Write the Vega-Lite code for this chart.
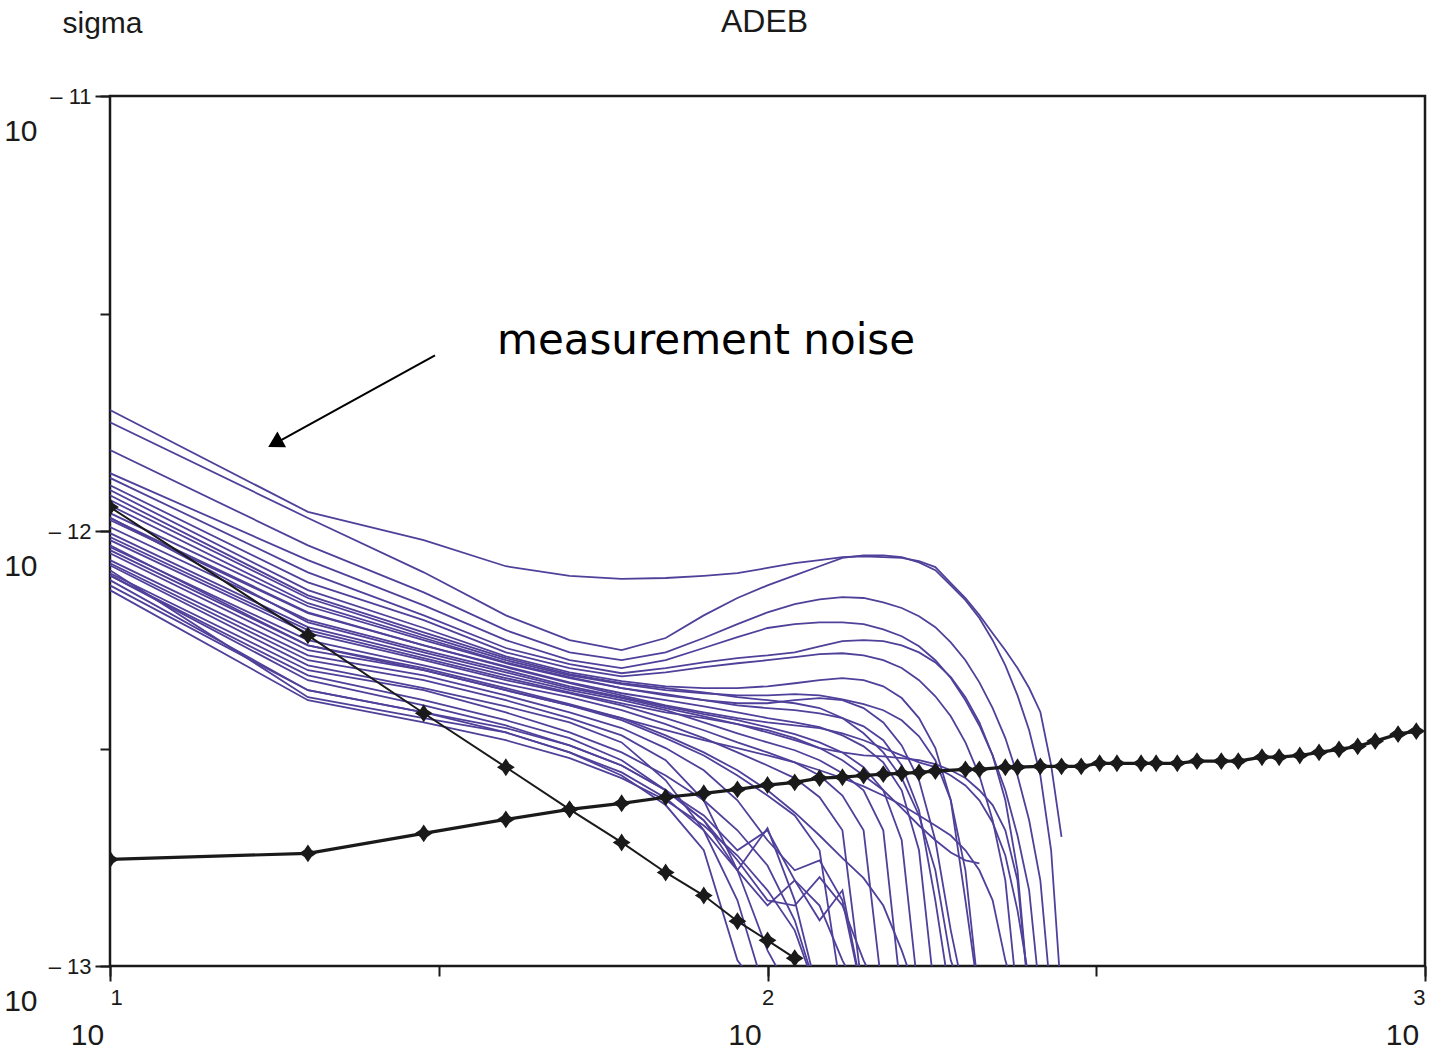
{
"$schema": "https://vega.github.io/schema/vega-lite/v6.json",
"width": 1315, "height": 870,
"autosize": "none",
"padding": {"left": 110, "top": 96, "right": 5, "bottom": 85},
"background": "white",
"config": {"view": {"stroke": "#1a1a1a", "strokeWidth": 2.5}, "font": "Liberation Sans, sans-serif"},
"datasets": {
"noise": [
{"series":"T","freq":10,"log_sigma":-11.722},{"series":"T","freq":20,"log_sigma":-11.956},{"series":"T","freq":30,"log_sigma":-12.021},{"series":"T","freq":40,"log_sigma":-12.081},{"series":"T","freq":50,"log_sigma":-12.103},{"series":"T","freq":60,"log_sigma":-12.110},{"series":"T","freq":70,"log_sigma":-12.108},{"series":"T","freq":80,"log_sigma":-12.103},{"series":"T","freq":90,"log_sigma":-12.097},{"series":"T","freq":100,"log_sigma":-12.085},{"series":"T","freq":110,"log_sigma":-12.074},{"series":"T","freq":120,"log_sigma":-12.067},{"series":"T","freq":130,"log_sigma":-12.060},{"series":"T","freq":140,"log_sigma":-12.058},{"series":"T","freq":150,"log_sigma":-12.060},{"series":"T","freq":160,"log_sigma":-12.062},{"series":"T","freq":170,"log_sigma":-12.069},{"series":"T","freq":180,"log_sigma":-12.083},{"series":"T","freq":190,"log_sigma":-12.120},{"series":"T","freq":200,"log_sigma":-12.154},{"series":"T","freq":210,"log_sigma":-12.193},{"series":"T","freq":220,"log_sigma":-12.235},{"series":"T","freq":230,"log_sigma":-12.274},{"series":"T","freq":240,"log_sigma":-12.315},{"series":"T","freq":250,"log_sigma":-12.361},{"series":"T","freq":260,"log_sigma":-12.416},{"series":"T","freq":270,"log_sigma":-12.538},{"series":"T","freq":280,"log_sigma":-12.703},
{"series":"U1","freq":10,"log_sigma":-11.750},{"series":"U1","freq":20,"log_sigma":-11.970},{"series":"U1","freq":30,"log_sigma":-12.095},{"series":"U1","freq":40,"log_sigma":-12.194},{"series":"U1","freq":50,"log_sigma":-12.251},{"series":"U1","freq":60,"log_sigma":-12.274},{"series":"U1","freq":70,"log_sigma":-12.246},{"series":"U1","freq":80,"log_sigma":-12.194},{"series":"U1","freq":90,"log_sigma":-12.154},{"series":"U1","freq":100,"log_sigma":-12.125},{"series":"U1","freq":110,"log_sigma":-12.102},{"series":"U1","freq":120,"log_sigma":-12.081},{"series":"U1","freq":130,"log_sigma":-12.062},{"series":"U1","freq":140,"log_sigma":-12.056},{"series":"U1","freq":150,"log_sigma":-12.056},{"series":"U1","freq":160,"log_sigma":-12.060},{"series":"U1","freq":170,"log_sigma":-12.072},{"series":"U1","freq":180,"log_sigma":-12.090},{"series":"U1","freq":190,"log_sigma":-12.125},{"series":"U1","freq":200,"log_sigma":-12.159},{"series":"U1","freq":210,"log_sigma":-12.200},{"series":"U1","freq":220,"log_sigma":-12.251},{"series":"U1","freq":230,"log_sigma":-12.309},{"series":"U1","freq":240,"log_sigma":-12.378},{"series":"U1","freq":250,"log_sigma":-12.458},{"series":"U1","freq":260,"log_sigma":-12.562},{"series":"U1","freq":270,"log_sigma":-12.734},{"series":"U1","freq":280,"log_sigma":-13.079},
{"series":"U2","freq":10,"log_sigma":-11.814},{"series":"U2","freq":20,"log_sigma":-12.033},{"series":"U2","freq":30,"log_sigma":-12.141},{"series":"U2","freq":40,"log_sigma":-12.228},{"series":"U2","freq":50,"log_sigma":-12.279},{"series":"U2","freq":60,"log_sigma":-12.297},{"series":"U2","freq":70,"log_sigma":-12.279},{"series":"U2","freq":80,"log_sigma":-12.246},{"series":"U2","freq":90,"log_sigma":-12.214},{"series":"U2","freq":100,"log_sigma":-12.187},{"series":"U2","freq":110,"log_sigma":-12.168},{"series":"U2","freq":120,"log_sigma":-12.157},{"series":"U2","freq":130,"log_sigma":-12.152},{"series":"U2","freq":140,"log_sigma":-12.154},{"series":"U2","freq":150,"log_sigma":-12.164},{"series":"U2","freq":160,"log_sigma":-12.177},{"series":"U2","freq":170,"log_sigma":-12.196},{"series":"U2","freq":180,"log_sigma":-12.221},{"series":"U2","freq":190,"log_sigma":-12.256},{"series":"U2","freq":200,"log_sigma":-12.297},{"series":"U2","freq":210,"log_sigma":-12.348},{"series":"U2","freq":220,"log_sigma":-12.407},{"series":"U2","freq":230,"log_sigma":-12.476},{"series":"U2","freq":240,"log_sigma":-12.562},{"series":"U2","freq":250,"log_sigma":-12.665},{"series":"U2","freq":260,"log_sigma":-12.803},{"series":"U2","freq":270,"log_sigma":-13.079},
{"series":"U3","freq":10,"log_sigma":-11.867},{"series":"U3","freq":20,"log_sigma":-12.067},{"series":"U3","freq":30,"log_sigma":-12.171},{"series":"U3","freq":40,"log_sigma":-12.251},{"series":"U3","freq":50,"log_sigma":-12.297},{"series":"U3","freq":60,"log_sigma":-12.315},{"series":"U3","freq":70,"log_sigma":-12.297},{"series":"U3","freq":80,"log_sigma":-12.269},{"series":"U3","freq":90,"log_sigma":-12.244},{"series":"U3","freq":100,"log_sigma":-12.223},{"series":"U3","freq":110,"log_sigma":-12.214},{"series":"U3","freq":120,"log_sigma":-12.210},{"series":"U3","freq":130,"log_sigma":-12.210},{"series":"U3","freq":140,"log_sigma":-12.214},{"series":"U3","freq":150,"log_sigma":-12.226},{"series":"U3","freq":160,"log_sigma":-12.242},{"series":"U3","freq":170,"log_sigma":-12.265},{"series":"U3","freq":180,"log_sigma":-12.297},{"series":"U3","freq":190,"log_sigma":-12.338},{"series":"U3","freq":200,"log_sigma":-12.389},{"series":"U3","freq":210,"log_sigma":-12.447},{"series":"U3","freq":220,"log_sigma":-12.516},{"series":"U3","freq":230,"log_sigma":-12.596},{"series":"U3","freq":240,"log_sigma":-12.700},{"series":"U3","freq":250,"log_sigma":-12.826},{"series":"U3","freq":260,"log_sigma":-13.079},
{"series":"U4","freq":10,"log_sigma":-11.878},{"series":"U4","freq":20,"log_sigma":-12.095},{"series":"U4","freq":30,"log_sigma":-12.194},{"series":"U4","freq":40,"log_sigma":-12.269},{"series":"U4","freq":50,"log_sigma":-12.306},{"series":"U4","freq":60,"log_sigma":-12.327},{"series":"U4","freq":70,"log_sigma":-12.315},{"series":"U4","freq":80,"log_sigma":-12.302},{"series":"U4","freq":90,"log_sigma":-12.292},{"series":"U4","freq":100,"log_sigma":-12.286},{"series":"U4","freq":110,"log_sigma":-12.279},{"series":"U4","freq":120,"log_sigma":-12.265},{"series":"U4","freq":130,"log_sigma":-12.253},{"series":"U4","freq":140,"log_sigma":-12.251},{"series":"U4","freq":150,"log_sigma":-12.253},{"series":"U4","freq":160,"log_sigma":-12.263},{"series":"U4","freq":170,"log_sigma":-12.279},{"series":"U4","freq":180,"log_sigma":-12.302},{"series":"U4","freq":190,"log_sigma":-12.336},{"series":"U4","freq":200,"log_sigma":-12.382},{"series":"U4","freq":210,"log_sigma":-12.440},{"series":"U4","freq":220,"log_sigma":-12.516},{"series":"U4","freq":230,"log_sigma":-12.619},{"series":"U4","freq":240,"log_sigma":-12.780},{"series":"U4","freq":250,"log_sigma":-13.079},
{"series":"U5","freq":10,"log_sigma":-11.895},{"series":"U5","freq":20,"log_sigma":-12.118},{"series":"U5","freq":30,"log_sigma":-12.205},{"series":"U5","freq":40,"log_sigma":-12.279},{"series":"U5","freq":50,"log_sigma":-12.315},{"series":"U5","freq":60,"log_sigma":-12.334},{"series":"U5","freq":70,"log_sigma":-12.325},{"series":"U5","freq":80,"log_sigma":-12.313},{"series":"U5","freq":90,"log_sigma":-12.304},{"series":"U5","freq":100,"log_sigma":-12.297},{"series":"U5","freq":110,"log_sigma":-12.290},{"series":"U5","freq":120,"log_sigma":-12.283},{"series":"U5","freq":130,"log_sigma":-12.281},{"series":"U5","freq":140,"log_sigma":-12.286},{"series":"U5","freq":150,"log_sigma":-12.297},{"series":"U5","freq":160,"log_sigma":-12.315},{"series":"U5","freq":170,"log_sigma":-12.343},{"series":"U5","freq":180,"log_sigma":-12.380},{"series":"U5","freq":190,"log_sigma":-12.426},{"series":"U5","freq":200,"log_sigma":-12.486},{"series":"U5","freq":210,"log_sigma":-12.562},{"series":"U5","freq":220,"log_sigma":-12.665},{"series":"U5","freq":230,"log_sigma":-12.803},{"series":"U5","freq":240,"log_sigma":-13.079},
{"series":"U6","freq":10,"log_sigma":-11.906},{"series":"U6","freq":20,"log_sigma":-12.136},{"series":"U6","freq":30,"log_sigma":-12.223},{"series":"U6","freq":40,"log_sigma":-12.288},{"series":"U6","freq":50,"log_sigma":-12.325},{"series":"U6","freq":60,"log_sigma":-12.345},{"series":"U6","freq":70,"log_sigma":-12.357},{"series":"U6","freq":80,"log_sigma":-12.361},{"series":"U6","freq":90,"log_sigma":-12.361},{"series":"U6","freq":100,"log_sigma":-12.357},{"series":"U6","freq":110,"log_sigma":-12.350},{"series":"U6","freq":120,"log_sigma":-12.343},{"series":"U6","freq":130,"log_sigma":-12.338},{"series":"U6","freq":140,"log_sigma":-12.343},{"series":"U6","freq":150,"log_sigma":-12.357},{"series":"U6","freq":160,"log_sigma":-12.384},{"series":"U6","freq":170,"log_sigma":-12.430},{"series":"U6","freq":180,"log_sigma":-12.499},{"series":"U6","freq":190,"log_sigma":-12.619},{"series":"U6","freq":200,"log_sigma":-12.849},{"series":"U6","freq":210,"log_sigma":-13.079},
{"series":"U7","freq":10,"log_sigma":-11.929},{"series":"U7","freq":20,"log_sigma":-12.154},{"series":"U7","freq":30,"log_sigma":-12.240},{"series":"U7","freq":40,"log_sigma":-12.297},{"series":"U7","freq":50,"log_sigma":-12.332},{"series":"U7","freq":60,"log_sigma":-12.352},{"series":"U7","freq":70,"log_sigma":-12.366},{"series":"U7","freq":80,"log_sigma":-12.373},{"series":"U7","freq":90,"log_sigma":-12.378},{"series":"U7","freq":100,"log_sigma":-12.378},{"series":"U7","freq":110,"log_sigma":-12.375},{"series":"U7","freq":120,"log_sigma":-12.378},{"series":"U7","freq":130,"log_sigma":-12.387},{"series":"U7","freq":140,"log_sigma":-12.398},{"series":"U7","freq":150,"log_sigma":-12.412},{"series":"U7","freq":160,"log_sigma":-12.435},{"series":"U7","freq":170,"log_sigma":-12.472},{"series":"U7","freq":180,"log_sigma":-12.527},{"series":"U7","freq":190,"log_sigma":-12.619},{"series":"U7","freq":200,"log_sigma":-12.780},{"series":"U7","freq":210,"log_sigma":-13.079},
{"series":"U8","freq":10,"log_sigma":-11.959},{"series":"U8","freq":20,"log_sigma":-12.173},{"series":"U8","freq":30,"log_sigma":-12.251},{"series":"U8","freq":40,"log_sigma":-12.304},{"series":"U8","freq":50,"log_sigma":-12.338},{"series":"U8","freq":60,"log_sigma":-12.361},{"series":"U8","freq":70,"log_sigma":-12.378},{"series":"U8","freq":80,"log_sigma":-12.389},{"series":"U8","freq":90,"log_sigma":-12.401},{"series":"U8","freq":100,"log_sigma":-12.407},{"series":"U8","freq":110,"log_sigma":-12.412},{"series":"U8","freq":120,"log_sigma":-12.419},{"series":"U8","freq":130,"log_sigma":-12.430},{"series":"U8","freq":140,"log_sigma":-12.449},{"series":"U8","freq":150,"log_sigma":-12.481},{"series":"U8","freq":160,"log_sigma":-12.539},{"series":"U8","freq":170,"log_sigma":-12.642},{"series":"U8","freq":180,"log_sigma":-12.849},{"series":"U8","freq":190,"log_sigma":-13.079},
{"series":"U9","freq":10,"log_sigma":-11.975},{"series":"U9","freq":20,"log_sigma":-12.189},{"series":"U9","freq":30,"log_sigma":-12.263},{"series":"U9","freq":40,"log_sigma":-12.311},{"series":"U9","freq":50,"log_sigma":-12.348},{"series":"U9","freq":60,"log_sigma":-12.373},{"series":"U9","freq":70,"log_sigma":-12.389},{"series":"U9","freq":80,"log_sigma":-12.403},{"series":"U9","freq":90,"log_sigma":-12.417},{"series":"U9","freq":100,"log_sigma":-12.430},{"series":"U9","freq":110,"log_sigma":-12.440},{"series":"U9","freq":120,"log_sigma":-12.451},{"series":"U9","freq":130,"log_sigma":-12.470},{"series":"U9","freq":140,"log_sigma":-12.495},{"series":"U9","freq":150,"log_sigma":-12.532},{"series":"U9","freq":160,"log_sigma":-12.596},{"series":"U9","freq":170,"log_sigma":-12.734},{"series":"U9","freq":180,"log_sigma":-13.079},
{"series":"U10","freq":10,"log_sigma":-11.991},{"series":"U10","freq":20,"log_sigma":-12.205},{"series":"U10","freq":30,"log_sigma":-12.274},{"series":"U10","freq":40,"log_sigma":-12.320},{"series":"U10","freq":50,"log_sigma":-12.357},{"series":"U10","freq":60,"log_sigma":-12.382},{"series":"U10","freq":70,"log_sigma":-12.403},{"series":"U10","freq":80,"log_sigma":-12.421},{"series":"U10","freq":90,"log_sigma":-12.435},{"series":"U10","freq":100,"log_sigma":-12.451},{"series":"U10","freq":110,"log_sigma":-12.467},{"series":"U10","freq":120,"log_sigma":-12.486},{"series":"U10","freq":130,"log_sigma":-12.509},{"series":"U10","freq":140,"log_sigma":-12.543},{"series":"U10","freq":150,"log_sigma":-12.596},{"series":"U10","freq":160,"log_sigma":-12.711},{"series":"U10","freq":170,"log_sigma":-13.079},
{"series":"U11","freq":10,"log_sigma":-12.005},{"series":"U11","freq":20,"log_sigma":-12.221},{"series":"U11","freq":30,"log_sigma":-12.286},{"series":"U11","freq":40,"log_sigma":-12.332},{"series":"U11","freq":50,"log_sigma":-12.366},{"series":"U11","freq":60,"log_sigma":-12.389},{"series":"U11","freq":70,"log_sigma":-12.412},{"series":"U11","freq":80,"log_sigma":-12.440},{"series":"U11","freq":90,"log_sigma":-12.465},{"series":"U11","freq":100,"log_sigma":-12.486},{"series":"U11","freq":110,"log_sigma":-12.504},{"series":"U11","freq":120,"log_sigma":-12.527},{"series":"U11","freq":130,"log_sigma":-12.557},{"series":"U11","freq":140,"log_sigma":-12.596},{"series":"U11","freq":150,"log_sigma":-12.688},{"series":"U11","freq":160,"log_sigma":-13.079},
{"series":"U12","freq":10,"log_sigma":-12.021},{"series":"U12","freq":20,"log_sigma":-12.235},{"series":"U12","freq":30,"log_sigma":-12.297},{"series":"U12","freq":40,"log_sigma":-12.343},{"series":"U12","freq":50,"log_sigma":-12.373},{"series":"U12","freq":60,"log_sigma":-12.401},{"series":"U12","freq":70,"log_sigma":-12.430},{"series":"U12","freq":80,"log_sigma":-12.458},{"series":"U12","freq":90,"log_sigma":-12.486},{"series":"U12","freq":100,"log_sigma":-12.509},{"series":"U12","freq":110,"log_sigma":-12.532},{"series":"U12","freq":120,"log_sigma":-12.562},{"series":"U12","freq":130,"log_sigma":-12.608},{"series":"U12","freq":140,"log_sigma":-12.688},{"series":"U12","freq":150,"log_sigma":-13.079},
{"series":"U13","freq":10,"log_sigma":-12.037},{"series":"U13","freq":20,"log_sigma":-12.251},{"series":"U13","freq":30,"log_sigma":-12.309},{"series":"U13","freq":40,"log_sigma":-12.352},{"series":"U13","freq":50,"log_sigma":-12.382},{"series":"U13","freq":60,"log_sigma":-12.412},{"series":"U13","freq":70,"log_sigma":-12.444},{"series":"U13","freq":80,"log_sigma":-12.476},{"series":"U13","freq":90,"log_sigma":-12.509},{"series":"U13","freq":100,"log_sigma":-12.539},{"series":"U13","freq":110,"log_sigma":-12.568},{"series":"U13","freq":120,"log_sigma":-12.612},{"series":"U13","freq":130,"log_sigma":-12.688},{"series":"U13","freq":140,"log_sigma":-13.079},
{"series":"E","freq":10,"log_sigma":-12.014},{"series":"E","freq":20,"log_sigma":-12.228},{"series":"E","freq":30,"log_sigma":-12.292},{"series":"E","freq":40,"log_sigma":-12.338},{"series":"E","freq":50,"log_sigma":-12.371},{"series":"E","freq":60,"log_sigma":-12.396},{"series":"E","freq":70,"log_sigma":-12.417},{"series":"E","freq":80,"log_sigma":-12.430},{"series":"E","freq":90,"log_sigma":-12.444},{"series":"E","freq":100,"log_sigma":-12.458},{"series":"E","freq":110,"log_sigma":-12.476},{"series":"E","freq":120,"log_sigma":-12.499},{"series":"E","freq":130,"log_sigma":-12.527},{"series":"E","freq":140,"log_sigma":-12.562},{"series":"E","freq":150,"log_sigma":-12.596},{"series":"E","freq":160,"log_sigma":-12.637},{"series":"E","freq":170,"log_sigma":-12.677},{"series":"E","freq":180,"log_sigma":-12.711},{"series":"E","freq":190,"log_sigma":-12.739},{"series":"E","freq":200,"log_sigma":-12.757},{"series":"E","freq":210,"log_sigma":-12.764},
{"series":"L1","freq":10,"log_sigma":-12.051},{"series":"L1","freq":20,"log_sigma":-12.274},{"series":"L1","freq":30,"log_sigma":-12.320},{"series":"L1","freq":40,"log_sigma":-12.366},{"series":"L1","freq":50,"log_sigma":-12.401},{"series":"L1","freq":60,"log_sigma":-12.435},{"series":"L1","freq":70,"log_sigma":-12.476},{"series":"L1","freq":80,"log_sigma":-12.516},{"series":"L1","freq":90,"log_sigma":-12.562},{"series":"L1","freq":100,"log_sigma":-12.608},{"series":"L1","freq":110,"log_sigma":-12.654},{"series":"L1","freq":120,"log_sigma":-12.734},{"series":"L1","freq":130,"log_sigma":-13.079},
{"series":"L2","freq":10,"log_sigma":-12.074},{"series":"L2","freq":20,"log_sigma":-12.297},{"series":"L2","freq":30,"log_sigma":-12.343},{"series":"L2","freq":40,"log_sigma":-12.389},{"series":"L2","freq":50,"log_sigma":-12.430},{"series":"L2","freq":60,"log_sigma":-12.470},{"series":"L2","freq":70,"log_sigma":-12.527},{"series":"L2","freq":80,"log_sigma":-12.619},{"series":"L2","freq":90,"log_sigma":-12.780},{"series":"L2","freq":100,"log_sigma":-12.683},{"series":"L2","freq":110,"log_sigma":-12.849},{"series":"L2","freq":120,"log_sigma":-13.079},
{"series":"L3","freq":10,"log_sigma":-12.097},{"series":"L3","freq":20,"log_sigma":-12.320},{"series":"L3","freq":30,"log_sigma":-12.366},{"series":"L3","freq":40,"log_sigma":-12.417},{"series":"L3","freq":50,"log_sigma":-12.463},{"series":"L3","freq":60,"log_sigma":-12.509},{"series":"L3","freq":70,"log_sigma":-12.562},{"series":"L3","freq":80,"log_sigma":-12.619},{"series":"L3","freq":90,"log_sigma":-12.688},{"series":"L3","freq":100,"log_sigma":-12.769},{"series":"L3","freq":110,"log_sigma":-12.895},{"series":"L3","freq":120,"log_sigma":-13.079},
{"series":"L4","freq":10,"log_sigma":-12.113},{"series":"L4","freq":20,"log_sigma":-12.366},{"series":"L4","freq":30,"log_sigma":-12.417},{"series":"L4","freq":40,"log_sigma":-12.453},{"series":"L4","freq":50,"log_sigma":-12.493},{"series":"L4","freq":60,"log_sigma":-12.539},{"series":"L4","freq":70,"log_sigma":-12.596},{"series":"L4","freq":80,"log_sigma":-12.665},{"series":"L4","freq":90,"log_sigma":-12.780},{"series":"L4","freq":100,"log_sigma":-12.964},{"series":"L4","freq":110,"log_sigma":-13.079},
{"series":"L5","freq":10,"log_sigma":-12.090},{"series":"L5","freq":20,"log_sigma":-12.382},{"series":"L5","freq":30,"log_sigma":-12.430},{"series":"L5","freq":40,"log_sigma":-12.463},{"series":"L5","freq":50,"log_sigma":-12.509},{"series":"L5","freq":60,"log_sigma":-12.562},{"series":"L5","freq":70,"log_sigma":-12.630},{"series":"L5","freq":80,"log_sigma":-12.734},{"series":"L5","freq":90,"log_sigma":-12.987},{"series":"L5","freq":100,"log_sigma":-13.079},
{"series":"L6","freq":10,"log_sigma":-12.079},{"series":"L6","freq":20,"log_sigma":-12.309},{"series":"L6","freq":30,"log_sigma":-12.361},{"series":"L6","freq":40,"log_sigma":-12.403},{"series":"L6","freq":50,"log_sigma":-12.440},{"series":"L6","freq":60,"log_sigma":-12.486},{"series":"L6","freq":70,"log_sigma":-12.573},{"series":"L6","freq":80,"log_sigma":-12.688},{"series":"L6","freq":90,"log_sigma":-12.849},{"series":"L6","freq":100,"log_sigma":-13.079},
{"series":"L7","freq":10,"log_sigma":-12.102},{"series":"L7","freq":20,"log_sigma":-12.332},{"series":"L7","freq":30,"log_sigma":-12.389},{"series":"L7","freq":40,"log_sigma":-12.435},{"series":"L7","freq":50,"log_sigma":-12.476},{"series":"L7","freq":60,"log_sigma":-12.527},{"series":"L7","freq":70,"log_sigma":-12.596},{"series":"L7","freq":80,"log_sigma":-12.654},{"series":"L7","freq":90,"log_sigma":-12.734},{"series":"L7","freq":100,"log_sigma":-12.688},{"series":"L7","freq":110,"log_sigma":-12.803},{"series":"L7","freq":120,"log_sigma":-12.861},{"series":"L7","freq":130,"log_sigma":-12.987},{"series":"L7","freq":140,"log_sigma":-13.079},
{"series":"L8","freq":10,"log_sigma":-12.067},{"series":"L8","freq":20,"log_sigma":-12.286},{"series":"L8","freq":30,"log_sigma":-12.332},{"series":"L8","freq":40,"log_sigma":-12.378},{"series":"L8","freq":50,"log_sigma":-12.417},{"series":"L8","freq":60,"log_sigma":-12.453},{"series":"L8","freq":70,"log_sigma":-12.499},{"series":"L8","freq":80,"log_sigma":-12.550},{"series":"L8","freq":90,"log_sigma":-12.619},{"series":"L8","freq":100,"log_sigma":-12.711},{"series":"L8","freq":110,"log_sigma":-12.780},{"series":"L8","freq":120,"log_sigma":-12.757},{"series":"L8","freq":130,"log_sigma":-12.849},{"series":"L8","freq":140,"log_sigma":-13.079},
{"series":"L9","freq":10,"log_sigma":-12.033},{"series":"L9","freq":20,"log_sigma":-12.263},{"series":"L9","freq":30,"log_sigma":-12.315},{"series":"L9","freq":40,"log_sigma":-12.361},{"series":"L9","freq":50,"log_sigma":-12.398},{"series":"L9","freq":60,"log_sigma":-12.430},{"series":"L9","freq":70,"log_sigma":-12.470},{"series":"L9","freq":80,"log_sigma":-12.509},{"series":"L9","freq":90,"log_sigma":-12.550},{"series":"L9","freq":100,"log_sigma":-12.596},{"series":"L9","freq":110,"log_sigma":-12.647},{"series":"L9","freq":120,"log_sigma":-12.700},{"series":"L9","freq":130,"log_sigma":-12.752},{"series":"L9","freq":140,"log_sigma":-12.798},{"series":"L9","freq":150,"log_sigma":-12.861},{"series":"L9","freq":160,"log_sigma":-12.964},{"series":"L9","freq":170,"log_sigma":-13.079},
{"series":"L10","freq":10,"log_sigma":-12.136},{"series":"L10","freq":20,"log_sigma":-12.389},{"series":"L10","freq":30,"log_sigma":-12.440},{"series":"L10","freq":40,"log_sigma":-12.481},{"series":"L10","freq":50,"log_sigma":-12.522},{"series":"L10","freq":60,"log_sigma":-12.568},{"series":"L10","freq":70,"log_sigma":-12.619},{"series":"L10","freq":80,"log_sigma":-12.677},{"series":"L10","freq":90,"log_sigma":-12.746},{"series":"L10","freq":100,"log_sigma":-12.826},{"series":"L10","freq":110,"log_sigma":-12.918},{"series":"L10","freq":120,"log_sigma":-13.079},
{"series":"Z1","freq":10,"log_sigma":-12.102},{"series":"Z1","freq":20,"log_sigma":-12.343},{"series":"Z1","freq":30,"log_sigma":-12.401},{"series":"Z1","freq":40,"log_sigma":-12.447},{"series":"Z1","freq":50,"log_sigma":-12.493},{"series":"Z1","freq":60,"log_sigma":-12.539},{"series":"Z1","freq":70,"log_sigma":-12.596},{"series":"Z1","freq":80,"log_sigma":-12.665},{"series":"Z1","freq":90,"log_sigma":-12.757},{"series":"Z1","freq":100,"log_sigma":-12.849},{"series":"Z1","freq":110,"log_sigma":-12.861},{"series":"Z1","freq":120,"log_sigma":-12.796},{"series":"Z1","freq":130,"log_sigma":-12.861},{"series":"Z1","freq":140,"log_sigma":-12.987},{"series":"Z1","freq":150,"log_sigma":-13.079},
{"series":"Z2","freq":10,"log_sigma":-12.125},{"series":"Z2","freq":20,"log_sigma":-12.366},{"series":"Z2","freq":30,"log_sigma":-12.417},{"series":"Z2","freq":40,"log_sigma":-12.463},{"series":"Z2","freq":50,"log_sigma":-12.509},{"series":"Z2","freq":60,"log_sigma":-12.555},{"series":"Z2","freq":70,"log_sigma":-12.614},{"series":"Z2","freq":80,"log_sigma":-12.688},{"series":"Z2","freq":90,"log_sigma":-12.780},{"series":"Z2","freq":100,"log_sigma":-12.861},{"series":"Z2","freq":110,"log_sigma":-12.803},{"series":"Z2","freq":120,"log_sigma":-12.895},{"series":"Z2","freq":130,"log_sigma":-12.826},{"series":"Z2","freq":140,"log_sigma":-13.079},
{"series":"M1","freq":10,"log_sigma":-11.941},{"series":"M1","freq":20,"log_sigma":-12.166},{"series":"M1","freq":30,"log_sigma":-12.246},{"series":"M1","freq":40,"log_sigma":-12.302},{"series":"M1","freq":50,"log_sigma":-12.336},{"series":"M1","freq":60,"log_sigma":-12.361},{"series":"M1","freq":70,"log_sigma":-12.375},{"series":"M1","freq":80,"log_sigma":-12.389},{"series":"M1","freq":90,"log_sigma":-12.396},{"series":"M1","freq":100,"log_sigma":-12.396},{"series":"M1","freq":110,"log_sigma":-12.389},{"series":"M1","freq":120,"log_sigma":-12.384},{"series":"M1","freq":130,"log_sigma":-12.389},{"series":"M1","freq":140,"log_sigma":-12.407},{"series":"M1","freq":150,"log_sigma":-12.440},{"series":"M1","freq":160,"log_sigma":-12.493},{"series":"M1","freq":170,"log_sigma":-12.573},{"series":"M1","freq":180,"log_sigma":-12.711},{"series":"M1","freq":190,"log_sigma":-12.918},{"series":"M1","freq":200,"log_sigma":-13.079},
{"series":"M2","freq":10,"log_sigma":-11.918},{"series":"M2","freq":20,"log_sigma":-12.148},{"series":"M2","freq":30,"log_sigma":-12.233},{"series":"M2","freq":40,"log_sigma":-12.292},{"series":"M2","freq":50,"log_sigma":-12.329},{"series":"M2","freq":60,"log_sigma":-12.350},{"series":"M2","freq":70,"log_sigma":-12.361},{"series":"M2","freq":80,"log_sigma":-12.371},{"series":"M2","freq":90,"log_sigma":-12.382},{"series":"M2","freq":100,"log_sigma":-12.389},{"series":"M2","freq":110,"log_sigma":-12.396},{"series":"M2","freq":120,"log_sigma":-12.407},{"series":"M2","freq":130,"log_sigma":-12.430},{"series":"M2","freq":140,"log_sigma":-12.465},{"series":"M2","freq":150,"log_sigma":-12.509},{"series":"M2","freq":160,"log_sigma":-12.568},{"series":"M2","freq":170,"log_sigma":-12.654},{"series":"M2","freq":180,"log_sigma":-12.780},{"series":"M2","freq":190,"log_sigma":-12.987},{"series":"M2","freq":200,"log_sigma":-13.079},
{"series":"M3","freq":10,"log_sigma":-11.969},{"series":"M3","freq":20,"log_sigma":-12.210},{"series":"M3","freq":30,"log_sigma":-12.279},{"series":"M3","freq":40,"log_sigma":-12.325},{"series":"M3","freq":50,"log_sigma":-12.361},{"series":"M3","freq":60,"log_sigma":-12.384},{"series":"M3","freq":70,"log_sigma":-12.407},{"series":"M3","freq":80,"log_sigma":-12.426},{"series":"M3","freq":90,"log_sigma":-12.444},{"series":"M3","freq":100,"log_sigma":-12.463},{"series":"M3","freq":110,"log_sigma":-12.481},{"series":"M3","freq":120,"log_sigma":-12.499},{"series":"M3","freq":130,"log_sigma":-12.509},{"series":"M3","freq":140,"log_sigma":-12.516},{"series":"M3","freq":150,"log_sigma":-12.518},{"series":"M3","freq":160,"log_sigma":-12.522},{"series":"M3","freq":170,"log_sigma":-12.527},{"series":"M3","freq":180,"log_sigma":-12.536},{"series":"M3","freq":190,"log_sigma":-12.550},{"series":"M3","freq":200,"log_sigma":-12.568},{"series":"M3","freq":210,"log_sigma":-12.596},{"series":"M3","freq":220,"log_sigma":-12.630},{"series":"M3","freq":230,"log_sigma":-12.688},{"series":"M3","freq":240,"log_sigma":-12.803},{"series":"M3","freq":250,"log_sigma":-13.079},
{"series":"M4","freq":10,"log_sigma":-11.970},{"series":"M4","freq":20,"log_sigma":-12.187},{"series":"M4","freq":30,"log_sigma":-12.263},{"series":"M4","freq":40,"log_sigma":-12.313},{"series":"M4","freq":50,"log_sigma":-12.350},{"series":"M4","freq":60,"log_sigma":-12.378},{"series":"M4","freq":70,"log_sigma":-12.401},{"series":"M4","freq":80,"log_sigma":-12.417},{"series":"M4","freq":90,"log_sigma":-12.430},{"series":"M4","freq":100,"log_sigma":-12.440},{"series":"M4","freq":110,"log_sigma":-12.447},{"series":"M4","freq":120,"log_sigma":-12.453},{"series":"M4","freq":130,"log_sigma":-12.465},{"series":"M4","freq":140,"log_sigma":-12.481},{"series":"M4","freq":150,"log_sigma":-12.499},{"series":"M4","freq":160,"log_sigma":-12.516},{"series":"M4","freq":170,"log_sigma":-12.532},{"series":"M4","freq":180,"log_sigma":-12.543},{"series":"M4","freq":190,"log_sigma":-12.562},{"series":"M4","freq":200,"log_sigma":-12.585},{"series":"M4","freq":210,"log_sigma":-12.619},{"series":"M4","freq":220,"log_sigma":-12.670},{"series":"M4","freq":230,"log_sigma":-12.746},{"series":"M4","freq":240,"log_sigma":-12.872},{"series":"M4","freq":250,"log_sigma":-13.033},{"series":"M4","freq":260,"log_sigma":-13.079},
{"series":"M5","freq":10,"log_sigma":-12.044},{"series":"M5","freq":20,"log_sigma":-12.263},{"series":"M5","freq":30,"log_sigma":-12.320},{"series":"M5","freq":40,"log_sigma":-12.366},{"series":"M5","freq":50,"log_sigma":-12.401},{"series":"M5","freq":60,"log_sigma":-12.430},{"series":"M5","freq":70,"log_sigma":-12.458},{"series":"M5","freq":80,"log_sigma":-12.481},{"series":"M5","freq":90,"log_sigma":-12.499},{"series":"M5","freq":100,"log_sigma":-12.516},{"series":"M5","freq":110,"log_sigma":-12.532},{"series":"M5","freq":120,"log_sigma":-12.550},{"series":"M5","freq":130,"log_sigma":-12.568},{"series":"M5","freq":140,"log_sigma":-12.587},{"series":"M5","freq":150,"log_sigma":-12.608},{"series":"M5","freq":160,"log_sigma":-12.630},{"series":"M5","freq":170,"log_sigma":-12.654},{"series":"M5","freq":180,"log_sigma":-12.677},{"series":"M5","freq":190,"log_sigma":-12.700},{"series":"M5","freq":200,"log_sigma":-12.734},{"series":"M5","freq":210,"log_sigma":-12.780},{"series":"M5","freq":220,"log_sigma":-12.849},{"series":"M5","freq":230,"log_sigma":-12.987},{"series":"M5","freq":240,"log_sigma":-13.079}
],
"black": [
{"series":"B1","freq":10,"log_sigma":-11.945},{"series":"B1","freq":20,"log_sigma":-12.240},{"series":"B1","freq":30,"log_sigma":-12.419},{"series":"B1","freq":40,"log_sigma":-12.543},{"series":"B1","freq":50,"log_sigma":-12.640},{"series":"B1","freq":60,"log_sigma":-12.716},{"series":"B1","freq":70,"log_sigma":-12.785},{"series":"B1","freq":80,"log_sigma":-12.838},{"series":"B1","freq":90,"log_sigma":-12.897},{"series":"B1","freq":100,"log_sigma":-12.941},{"series":"B1","freq":110,"log_sigma":-12.982},
{"series":"B2","freq":10,"log_sigma":-12.755},{"series":"B2","freq":20,"log_sigma":-12.741},{"series":"B2","freq":30,"log_sigma":-12.695},{"series":"B2","freq":40,"log_sigma":-12.663},{"series":"B2","freq":50,"log_sigma":-12.640},{"series":"B2","freq":60,"log_sigma":-12.626},{"series":"B2","freq":70,"log_sigma":-12.612},{"series":"B2","freq":80,"log_sigma":-12.603},{"series":"B2","freq":90,"log_sigma":-12.594},{"series":"B2","freq":100,"log_sigma":-12.584},{"series":"B2","freq":110,"log_sigma":-12.578},{"series":"B2","freq":120,"log_sigma":-12.568},{"series":"B2","freq":130,"log_sigma":-12.566},{"series":"B2","freq":140,"log_sigma":-12.562},{"series":"B2","freq":150,"log_sigma":-12.559},{"series":"B2","freq":160,"log_sigma":-12.557},{"series":"B2","freq":170,"log_sigma":-12.555},{"series":"B2","freq":180,"log_sigma":-12.552},{"series":"B2","freq":200,"log_sigma":-12.548},{"series":"B2","freq":210,"log_sigma":-12.548},{"series":"B2","freq":230,"log_sigma":-12.543},{"series":"B2","freq":240,"log_sigma":-12.543},{"series":"B2","freq":260,"log_sigma":-12.541},{"series":"B2","freq":280,"log_sigma":-12.541},{"series":"B2","freq":300,"log_sigma":-12.541},{"series":"B2","freq":320,"log_sigma":-12.534},{"series":"B2","freq":340,"log_sigma":-12.534},{"series":"B2","freq":370,"log_sigma":-12.534},{"series":"B2","freq":390,"log_sigma":-12.534},{"series":"B2","freq":420,"log_sigma":-12.534},{"series":"B2","freq":450,"log_sigma":-12.529},{"series":"B2","freq":490,"log_sigma":-12.529},{"series":"B2","freq":520,"log_sigma":-12.529},{"series":"B2","freq":565,"log_sigma":-12.520},{"series":"B2","freq":600,"log_sigma":-12.520},{"series":"B2","freq":645,"log_sigma":-12.516},{"series":"B2","freq":690,"log_sigma":-12.509},{"series":"B2","freq":740,"log_sigma":-12.502},{"series":"B2","freq":790,"log_sigma":-12.495},{"series":"B2","freq":840,"log_sigma":-12.483},{"series":"B2","freq":910,"log_sigma":-12.467},{"series":"B2","freq":970,"log_sigma":-12.460}
]
},
"layer": [
{
"encoding": {
"x": {"field": "freq", "type": "quantitative", "scale": {"type": "log", "domain": [10, 1000]},
 "axis": {"values": [10, 100, 1000], "labelExpr": "datum.value == 10 ? '1' : datum.value == 100 ? '2' : '3'", "tickSize": 15, "tickColor": "#1a1a1a", "tickWidth": 2, "domain": false, "grid": false, "labelFontSize": 22, "labelColor": "#1a1a1a", "labelPadding": 6, "labelBaseline": "top", "labelOverlap": false, "labelFlush": true, "title": "ADEB", "titleX": 654, "titleY": -935, "titleBaseline": "alphabetic", "titleAlign": "center", "titleFontSize": 32, "titleFontWeight": "normal", "titleColor": "#1a1a1a"}},
"y": {"field": "log_sigma", "type": "quantitative", "scale": {"domain": [-13, -11], "nice": false, "zero": false},
 "axis": {"values": [-13, -12, -11], "labelExpr": "'– ' + abs(datum.value)", "tickSize": 15, "tickColor": "#1a1a1a", "tickWidth": 2, "domain": false, "grid": false, "labelFontSize": 22, "labelColor": "#1a1a1a", "labelPadding": 4, "labelAlign": "right", "labelBaseline": "middle", "labelOverlap": false, "labelFlush": false, "title": "sigma", "titleAngle": 0, "titleX": -8, "titleY": -64, "titleAlign": "center", "titleBaseline": "alphabetic", "titleFontSize": 30, "titleFontWeight": "normal", "titleColor": "#1a1a1a"}}
},
"layer": [
{"data": {"name": "noise"}, "mark": {"type": "line", "color": "#50409a", "strokeWidth": 1.8, "clip": true}, "encoding": {"detail": {"field": "series"}}},
{"data": {"name": "black"}, "transform": [{"filter": "datum.series === 'B1'"}], "mark": {"type": "line", "color": "#1a1a1a", "strokeWidth": 2, "clip": true}},
{"data": {"name": "black"}, "transform": [{"filter": "datum.series === 'B2'"}], "mark": {"type": "line", "color": "#1a1a1a", "strokeWidth": 3.2, "clip": true}},
{"data": {"name": "black"}, "mark": {"type": "point", "shape": "M0,-1L0.4,-0.4L1,0L0.4,0.4L0,1L-0.4,0.4L-1,0L-0.4,-0.4Z", "filled": true, "color": "#1a1a1a", "size": 320, "opacity": 1, "clip": true}},
{"data": {"values": [{"freq": 80.63, "log_sigma": -11.563, "label": "measurement noise"}]}, "mark": {"type": "text", "font": "DejaVu Sans", "fontSize": 42, "color": "black", "align": "center", "baseline": "middle"}, "encoding": {"text": {"field": "label"}}},
{"data": {"values": [{"freq": 31.21, "log_sigma": -11.596, "freq_end": 17.95, "log_sigma_end": -11.796}]}, "mark": {"type": "rule", "color": "black", "strokeWidth": 2}, "encoding": {"x2": {"field": "freq_end"}, "y2": {"field": "log_sigma_end"}}},
{"data": {"values": [{"freq": 17.82, "log_sigma": -11.798}]}, "mark": {"type": "point", "shape": "triangle-up", "filled": true, "color": "black", "size": 320, "angle": 241, "opacity": 1}}
]
},
{
"data": {"values": [{"freq": 100, "log_sigma": -12}]},
"mark": {"type": "point", "opacity": 0},
"encoding": {
"x": {"field": "freq", "type": "quantitative", "scale": {"type": "log", "domain": [10, 1000]},
 "axis": {"orient": "bottom", "values": [10, 31.6228, 100, 316.228, 1000], "labelExpr": "datum.value == 10 || datum.value == 100 || datum.value == 1000 ? '10' : ''", "ticks": true, "tickSize": 10, "tickColor": "#1a1a1a", "tickWidth": 2, "domain": false, "grid": false, "labelFontSize": 30, "labelColor": "#1a1a1a", "labelOffset": -23, "labelPadding": 44, "labelBaseline": "top", "labelAlign": "center", "labelOverlap": false, "labelFlush": false, "title": null}},
"y": {"field": "log_sigma", "type": "quantitative", "scale": {"domain": [-13, -11], "nice": false, "zero": false},
 "axis": {"orient": "left", "values": [-13, -12.5, -12, -11.5, -11], "labelExpr": "datum.value % 1 == 0 ? '10' : ''", "ticks": true, "tickSize": 10, "tickColor": "#1a1a1a", "tickWidth": 2, "domain": false, "grid": false, "labelFontSize": 30, "labelColor": "#1a1a1a", "labelOffset": 35, "labelPadding": 63, "labelAlign": "right", "labelBaseline": "middle", "labelOverlap": false, "labelFlush": false, "title": null}}
}
}
],
"resolve": {"scale": {"x": "independent", "y": "independent"}}
}
